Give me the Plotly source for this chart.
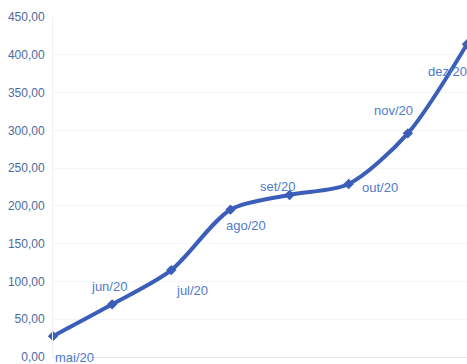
import plotly.graph_objects as go

months = ["mai/20", "jun/20", "jul/20", "ago/20", "set/20", "out/20", "nov/20", "dez/20"]
values = [27.6, 69.7, 115.0, 195.0, 214.5, 229.0, 296.0, 414.0]
y_ticks = [0, 50, 100, 150, 200, 250, 300, 350, 400, 450]

# label offsets (px) relative to each point
label_dx = [21, -3, 21, 16, -12, 31, -14, -20]
label_dy = [-21, 18, -20, -16, 8, -4, 23, -27]

fig = go.Figure()
fig.add_trace(go.Scatter(
    x=list(range(len(months))), y=values,
    mode="lines+markers",
    line=dict(color="#3b5fb8", width=4, shape="spline", smoothing=0.8),
    marker=dict(symbol="diamond", size=8, color="#3b5fb8"),
    cliponaxis=False,
    hoverinfo="skip",
))

for i, (m, v) in enumerate(zip(months, values)):
    fig.add_annotation(
        x=i, y=v, text=m, showarrow=False,
        xshift=label_dx[i], yshift=label_dy[i],
        font=dict(family="Liberation Sans, Arial, sans-serif", size=13, color="#4f7bc8"),
    )

fig.update_layout(
    width=467, height=364,
    margin=dict(l=53, r=0, t=17, b=5),
    paper_bgcolor="white", plot_bgcolor="white",
    separators=",.",
    showlegend=False,
    font=dict(family="Liberation Sans, Arial, sans-serif", size=12, color="#4d6a9e"),
)
fig.update_xaxes(
    range=[0, 7], showticklabels=False, showgrid=False, zeroline=False,
    showline=False,
)
fig.update_yaxes(
    range=[0, 450], tickvals=y_ticks, tickformat=".2f",
    showgrid=True, gridcolor="#f4f5f8", gridwidth=1,
    zeroline=True, zerolinecolor="#e6e8ee", zerolinewidth=1,
    showline=True, linecolor="#f0f1f5",
    ticks="", ticklabelstandoff=5, ticklabeloverflow="allow",
    tickfont=dict(size=12, color="#4d6a9e"),
)

fig.write_html("out.html")
